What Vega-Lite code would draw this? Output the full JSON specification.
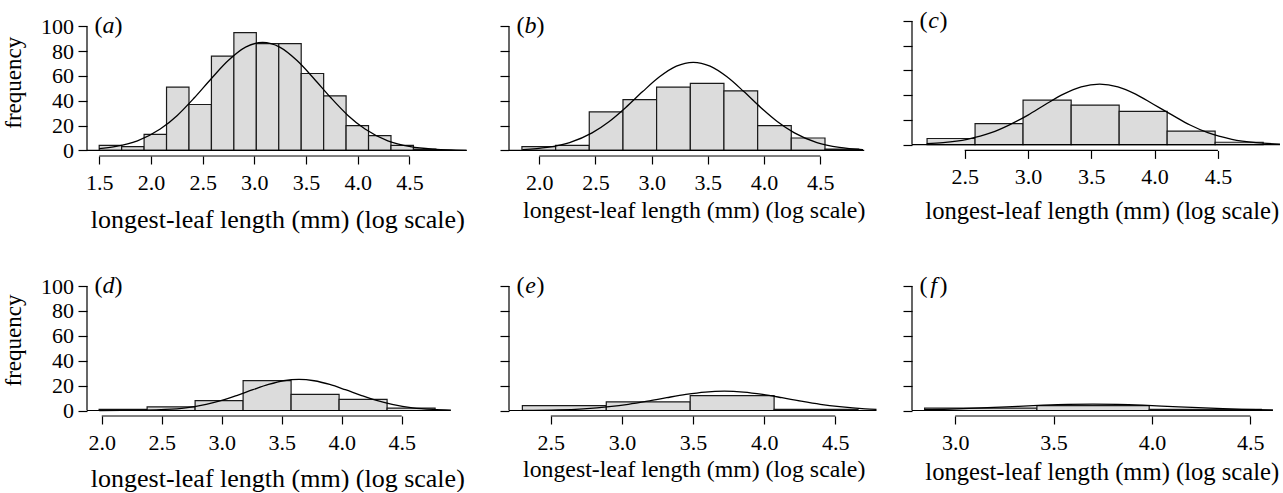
{
  "$schema": "https://vega.github.io/schema/vega-lite/v6.json",
  "padding": {"left": 2, "top": 9, "right": 0, "bottom": 0},
  "config": {
    "view": {"stroke": null},
    "font": "Liberation Serif",
    "axis": {"domain": false, "grid": false, "tickColor": "black", "tickWidth": 1.2, "tickCount": 12, "labelFont": "Liberation Serif", "labelFontSize": 22, "labelColor": "black", "titleFont": "Liberation Serif", "titleFontWeight": "normal", "titleColor": "black", "labelFlush": false, "labelOverlap": false},
    "axisX": {"tickSize": 8, "labelBaseline": "alphabetic", "labelPadding": 25, "titleBaseline": "alphabetic", "titleFontSize": 25},
    "axisY": {"tickSize": 9, "labelPadding": 4.5, "titleFontSize": 23, "titleBaseline": "alphabetic", "titleAngle": 270},
    "text": {"font": "Liberation Serif", "fontSize": 24, "color": "black", "baseline": "middle"},
    "rule": {"color": "black", "strokeWidth": 1.2},
    "line": {"color": "black", "strokeWidth": 1.3, "interpolate": "monotone"},
    "rect": {"fill": "#dcdcdc", "stroke": "#1a1a1a", "strokeWidth": 1.2}
  },
  "datasets": {
    "bars": [
      {"p": "a", "x0": 1.5, "x1": 1.717, "n": 4}, {"p": "a", "x0": 1.717, "x1": 1.934, "n": 3}, {"p": "a", "x0": 1.934, "x1": 2.151, "n": 13}, {"p": "a", "x0": 2.151, "x1": 2.368, "n": 51}, {"p": "a", "x0": 2.368, "x1": 2.585, "n": 37}, {"p": "a", "x0": 2.585, "x1": 2.802, "n": 76}, {"p": "a", "x0": 2.802, "x1": 3.019, "n": 95}, {"p": "a", "x0": 3.019, "x1": 3.236, "n": 86}, {"p": "a", "x0": 3.236, "x1": 3.453, "n": 86}, {"p": "a", "x0": 3.453, "x1": 3.67, "n": 62}, {"p": "a", "x0": 3.67, "x1": 3.887, "n": 44}, {"p": "a", "x0": 3.887, "x1": 4.104, "n": 20}, {"p": "a", "x0": 4.104, "x1": 4.321, "n": 12}, {"p": "a", "x0": 4.321, "x1": 4.538, "n": 4}, {"p": "a", "x0": 4.538, "x1": 4.755, "n": 1},
      {"p": "b", "x0": 1.846, "x1": 2.146, "n": 3}, {"p": "b", "x0": 2.146, "x1": 2.445, "n": 4}, {"p": "b", "x0": 2.445, "x1": 2.745, "n": 31}, {"p": "b", "x0": 2.745, "x1": 3.044, "n": 41}, {"p": "b", "x0": 3.044, "x1": 3.344, "n": 51}, {"p": "b", "x0": 3.344, "x1": 3.643, "n": 54}, {"p": "b", "x0": 3.643, "x1": 3.943, "n": 48}, {"p": "b", "x0": 3.943, "x1": 4.242, "n": 20}, {"p": "b", "x0": 4.242, "x1": 4.542, "n": 10}, {"p": "b", "x0": 4.542, "x1": 4.841, "n": 1},
      {"p": "c", "x0": 2.203, "x1": 2.582, "n": 5}, {"p": "c", "x0": 2.582, "x1": 2.961, "n": 17}, {"p": "c", "x0": 2.961, "x1": 3.341, "n": 36}, {"p": "c", "x0": 3.341, "x1": 3.72, "n": 32}, {"p": "c", "x0": 3.72, "x1": 4.099, "n": 27}, {"p": "c", "x0": 4.099, "x1": 4.478, "n": 11}, {"p": "c", "x0": 4.478, "x1": 4.857, "n": 2},
      {"p": "d", "x0": 1.978, "x1": 2.378, "n": 1}, {"p": "d", "x0": 2.378, "x1": 2.778, "n": 3}, {"p": "d", "x0": 2.778, "x1": 3.178, "n": 8}, {"p": "d", "x0": 3.178, "x1": 3.578, "n": 24}, {"p": "d", "x0": 3.578, "x1": 3.978, "n": 13}, {"p": "d", "x0": 3.978, "x1": 4.378, "n": 9}, {"p": "d", "x0": 4.378, "x1": 4.778, "n": 2},
      {"p": "e", "x0": 2.3, "x1": 2.89, "n": 4}, {"p": "e", "x0": 2.89, "x1": 3.48, "n": 7}, {"p": "e", "x0": 3.48, "x1": 4.07, "n": 12}, {"p": "e", "x0": 4.07, "x1": 4.66, "n": 1},
      {"p": "f", "x0": 2.844, "x1": 3.415, "n": 2}, {"p": "f", "x0": 3.415, "x1": 3.986, "n": 4}, {"p": "f", "x0": 3.986, "x1": 4.556, "n": 1}
    ],
    "curve": [
      {"p": "a", "x": 1.5, "y": 1.4}, {"p": "a", "x": 1.65, "y": 3.0}, {"p": "a", "x": 1.87, "y": 7.7}, {"p": "a", "x": 2.09, "y": 17.2}, {"p": "a", "x": 2.255, "y": 28.2}, {"p": "a", "x": 2.42, "y": 42.4}, {"p": "a", "x": 2.585, "y": 58.0}, {"p": "a", "x": 2.75, "y": 72.6}, {"p": "a", "x": 2.915, "y": 83.2}, {"p": "a", "x": 3.08, "y": 87}, {"p": "a", "x": 3.245, "y": 83.2}, {"p": "a", "x": 3.41, "y": 72.6}, {"p": "a", "x": 3.575, "y": 58.0}, {"p": "a", "x": 3.74, "y": 42.4}, {"p": "a", "x": 3.905, "y": 28.2}, {"p": "a", "x": 4.07, "y": 17.2}, {"p": "a", "x": 4.29, "y": 7.7}, {"p": "a", "x": 4.51, "y": 3.0}, {"p": "a", "x": 4.73, "y": 1.0}, {"p": "a", "x": 4.95, "y": 0.3}, {"p": "a", "x": 5.05, "y": 0.1},
      {"p": "b", "x": 1.85, "y": 0.7}, {"p": "b", "x": 2.07, "y": 2.4}, {"p": "b", "x": 2.27, "y": 6.3}, {"p": "b", "x": 2.47, "y": 14.1}, {"p": "b", "x": 2.62, "y": 23.1}, {"p": "b", "x": 2.77, "y": 34.6}, {"p": "b", "x": 2.92, "y": 47.4}, {"p": "b", "x": 3.07, "y": 59.3}, {"p": "b", "x": 3.22, "y": 67.9}, {"p": "b", "x": 3.37, "y": 71}, {"p": "b", "x": 3.52, "y": 67.9}, {"p": "b", "x": 3.67, "y": 59.3}, {"p": "b", "x": 3.82, "y": 47.4}, {"p": "b", "x": 3.97, "y": 34.6}, {"p": "b", "x": 4.12, "y": 23.1}, {"p": "b", "x": 4.27, "y": 14.1}, {"p": "b", "x": 4.47, "y": 6.3}, {"p": "b", "x": 4.67, "y": 2.4}, {"p": "b", "x": 4.88, "y": 0.7},
      {"p": "c", "x": 2.2, "y": 0.8}, {"p": "c", "x": 2.33, "y": 1.7}, {"p": "c", "x": 2.52, "y": 4.4}, {"p": "c", "x": 2.71, "y": 9.7}, {"p": "c", "x": 2.85, "y": 15.9}, {"p": "c", "x": 3.0, "y": 23.9}, {"p": "c", "x": 3.14, "y": 32.7}, {"p": "c", "x": 3.28, "y": 40.9}, {"p": "c", "x": 3.42, "y": 46.8}, {"p": "c", "x": 3.566, "y": 49}, {"p": "c", "x": 3.71, "y": 46.8}, {"p": "c", "x": 3.85, "y": 40.9}, {"p": "c", "x": 3.99, "y": 32.7}, {"p": "c", "x": 4.14, "y": 23.9}, {"p": "c", "x": 4.28, "y": 15.9}, {"p": "c", "x": 4.42, "y": 9.7}, {"p": "c", "x": 4.61, "y": 4.4}, {"p": "c", "x": 4.8, "y": 1.7}, {"p": "c", "x": 4.99, "y": 0.5},
      {"p": "d", "x": 1.98, "y": 0.0}, {"p": "d", "x": 2.35, "y": 0.3}, {"p": "d", "x": 2.53, "y": 0.85}, {"p": "d", "x": 2.7, "y": 2.2}, {"p": "d", "x": 2.87, "y": 5.0}, {"p": "d", "x": 3.0, "y": 8.1}, {"p": "d", "x": 3.13, "y": 12.2}, {"p": "d", "x": 3.26, "y": 16.7}, {"p": "d", "x": 3.39, "y": 20.9}, {"p": "d", "x": 3.515, "y": 23.9}, {"p": "d", "x": 3.644, "y": 25}, {"p": "d", "x": 3.77, "y": 23.9}, {"p": "d", "x": 3.9, "y": 20.9}, {"p": "d", "x": 4.03, "y": 16.7}, {"p": "d", "x": 4.16, "y": 12.2}, {"p": "d", "x": 4.29, "y": 8.1}, {"p": "d", "x": 4.42, "y": 5.0}, {"p": "d", "x": 4.59, "y": 2.2}, {"p": "d", "x": 4.76, "y": 0.85}, {"p": "d", "x": 4.91, "y": 0.3},
      {"p": "e", "x": 2.3, "y": 0.1}, {"p": "e", "x": 2.55, "y": 0.5}, {"p": "e", "x": 2.73, "y": 1.4}, {"p": "e", "x": 2.91, "y": 3.1}, {"p": "e", "x": 3.045, "y": 5.0}, {"p": "e", "x": 3.18, "y": 7.5}, {"p": "e", "x": 3.315, "y": 10.3}, {"p": "e", "x": 3.45, "y": 12.9}, {"p": "e", "x": 3.585, "y": 14.8}, {"p": "e", "x": 3.72, "y": 15.5}, {"p": "e", "x": 3.855, "y": 14.8}, {"p": "e", "x": 3.99, "y": 12.9}, {"p": "e", "x": 4.125, "y": 10.3}, {"p": "e", "x": 4.26, "y": 7.5}, {"p": "e", "x": 4.395, "y": 5.0}, {"p": "e", "x": 4.53, "y": 3.1}, {"p": "e", "x": 4.71, "y": 1.4}, {"p": "e", "x": 4.79, "y": 1.0},
      {"p": "f", "x": 2.844, "y": 0.64}, {"p": "f", "x": 2.944, "y": 1.0}, {"p": "f", "x": 3.07, "y": 1.66}, {"p": "f", "x": 3.196, "y": 2.48}, {"p": "f", "x": 3.32, "y": 3.4}, {"p": "f", "x": 3.448, "y": 4.26}, {"p": "f", "x": 3.574, "y": 4.88}, {"p": "f", "x": 3.7, "y": 5.1}, {"p": "f", "x": 3.826, "y": 4.88}, {"p": "f", "x": 3.952, "y": 4.26}, {"p": "f", "x": 4.078, "y": 3.4}, {"p": "f", "x": 4.204, "y": 2.48}, {"p": "f", "x": 4.33, "y": 1.66}, {"p": "f", "x": 4.456, "y": 1.0}, {"p": "f", "x": 4.615, "y": 0.5}
    ]
  },
  "columns": 3,
  "spacing": {"row": 130, "column": 0},
  "bounds": "flush",
  "align": "each",
  "concat": [
    {
      "width": 422, "height": 135,
      "data": {"values": [{}]},
      "layer": [
        {"data": {"name": "bars"}, "transform": [{"filter": "datum.p === 'a'"}], "mark": "rect",
         "encoding": {
           "x": {"field": "x0", "type": "quantitative", "scale": {"domain": [1.382, 5.462], "nice": false, "zero": false},
                 "axis": {"values": [1.5, 2, 2.5, 3, 3.5, 4, 4.5], "format": ".1f", "title": "longest-leaf length (mm) (log scale)", "titleX": 190.3, "titleY": 71, "titleFontSize": 26}},
           "x2": {"field": "x1"},
           "y": {"field": "n", "type": "quantitative", "scale": {"domain": [-4.5, 104.3], "nice": false, "zero": false},
                 "axis": {"values": [0, 20, 40, 60, 80, 100], "tickCount": 12, "title": "frequency", "titleX": -66.2, "titleY": 61.3}},
           "y2": {"datum": 0}}},
        {"data": {"name": "curve"}, "transform": [{"filter": "datum.p === 'a'"}], "mark": "line",
         "encoding": {"x": {"field": "x", "type": "quantitative"}, "y": {"field": "y", "type": "quantitative"}}},
        {"mark": "rule", "encoding": {"x": {"datum": 1.382}, "x2": {"datum": 5.054}, "y": {"datum": 0}}},
        {"mark": "rule", "encoding": {"x": {"datum": 1.382}, "y": {"datum": 0}, "y2": {"datum": 100}}},
        {"mark": "rule", "encoding": {"x": {"datum": 1.5}, "x2": {"datum": 4.5}, "y": {"datum": -4.5}}},
        {"mark": {"type": "text", "align": "right", "dx": 15.5, "text": "("}, "encoding": {"x": {"datum": 1.382}, "y": {"datum": 100}}},
        {"mark": {"type": "text", "align": "center", "dx": 21.5, "fontStyle": "italic", "text": "a"}, "encoding": {"x": {"datum": 1.382}, "y": {"datum": 100}}},
        {"mark": {"type": "text", "align": "left", "dx": 27.5, "text": ")"}, "encoding": {"x": {"datum": 1.382}, "y": {"datum": 100}}}
      ]
    },
    {
      "width": 402.5, "height": 135,
      "data": {"values": [{}]},
      "layer": [
        {"data": {"name": "bars"}, "transform": [{"filter": "datum.p === 'b'"}], "mark": "rect",
         "encoding": {
           "x": {"field": "x0", "type": "quantitative", "scale": {"domain": [1.731, 5.3115], "nice": false, "zero": false},
                 "axis": {"values": [2, 2.5, 3, 3.5, 4, 4.5], "format": ".1f", "title": "longest-leaf length (mm) (log scale)", "titleX": 184.7, "titleY": 61.5, "titleFontSize": 23.8}},
           "x2": {"field": "x1"},
           "y": {"field": "n", "type": "quantitative", "scale": {"domain": [-4.5, 104.3], "nice": false, "zero": false},
                 "axis": {"values": [0, 20, 40, 60, 80, 100], "tickCount": 12, "labels": false, "title": ""}},
           "y2": {"datum": 0}}},
        {"data": {"name": "curve"}, "transform": [{"filter": "datum.p === 'b'"}], "mark": "line",
         "encoding": {"x": {"field": "x", "type": "quantitative"}, "y": {"field": "y", "type": "quantitative"}}},
        {"mark": "rule", "encoding": {"x": {"datum": 1.731}, "x2": {"datum": 4.891}, "y": {"datum": 0}}},
        {"mark": "rule", "encoding": {"x": {"datum": 1.731}, "y": {"datum": 0}, "y2": {"datum": 100}}},
        {"mark": "rule", "encoding": {"x": {"datum": 2.0}, "x2": {"datum": 4.5}, "y": {"datum": -4.5}}},
        {"mark": {"type": "text", "align": "right", "dx": 15.5, "text": "("}, "encoding": {"x": {"datum": 1.731}, "y": {"datum": 100}}},
        {"mark": {"type": "text", "align": "center", "dx": 21.5, "fontStyle": "italic", "text": "b"}, "encoding": {"x": {"datum": 1.731}, "y": {"datum": 100}}},
        {"mark": {"type": "text", "align": "left", "dx": 27.5, "text": ")"}, "encoding": {"x": {"datum": 1.731}, "y": {"datum": 100}}}
      ]
    },
    {
      "width": 369, "height": 129.4,
      "data": {"values": [{}]},
      "layer": [
        {"data": {"name": "bars"}, "transform": [{"filter": "datum.p === 'c'"}], "mark": "rect",
         "encoding": {
           "x": {"field": "x0", "type": "quantitative", "scale": {"domain": [2.084, 4.998], "nice": false, "zero": false},
                 "axis": {"values": [2.5, 3, 3.5, 4, 4.5], "format": ".1f", "title": "longest-leaf length (mm) (log scale)", "titleX": 189.7, "titleY": 68, "titleFontSize": 24.6}},
           "x2": {"field": "x1"},
           "y": {"field": "n", "type": "quantitative", "scale": {"domain": [-4.6, 100], "nice": false, "zero": false},
                 "axis": {"values": [0, 20, 40, 60, 80, 100], "tickCount": 12, "labels": false, "title": ""}},
           "y2": {"datum": 0}}},
        {"data": {"name": "curve"}, "transform": [{"filter": "datum.p === 'c'"}], "mark": "line",
         "encoding": {"x": {"field": "x", "type": "quantitative"}, "y": {"field": "y", "type": "quantitative"}}},
        {"mark": "rule", "encoding": {"x": {"datum": 2.084}, "x2": {"datum": 4.99}, "y": {"datum": 0}}},
        {"mark": "rule", "encoding": {"x": {"datum": 2.084}, "y": {"datum": 0}, "y2": {"datum": 100}}},
        {"mark": "rule", "encoding": {"x": {"datum": 2.5}, "x2": {"datum": 4.5}, "y": {"datum": -4.6}}},
        {"mark": {"type": "text", "align": "right", "dx": 15.5, "text": "("}, "encoding": {"x": {"datum": 2.084}, "y": {"datum": 100}}},
        {"mark": {"type": "text", "align": "center", "dx": 21.5, "fontStyle": "italic", "text": "c"}, "encoding": {"x": {"datum": 2.084}, "y": {"datum": 100}}},
        {"mark": {"type": "text", "align": "left", "dx": 27.5, "text": ")"}, "encoding": {"x": {"datum": 2.084}, "y": {"datum": 100}}}
      ]
    },
    {
      "width": 422, "height": 130,
      "data": {"values": [{}]},
      "layer": [
        {"data": {"name": "bars"}, "transform": [{"filter": "datum.p === 'd'"}], "mark": "rect",
         "encoding": {
           "x": {"field": "x0", "type": "quantitative", "scale": {"domain": [1.877, 5.394], "nice": false, "zero": false},
                 "axis": {"values": [2, 2.5, 3, 3.5, 4, 4.5], "format": ".1f", "title": "longest-leaf length (mm) (log scale)", "titleX": 190.3, "titleY": 70.5, "titleFontSize": 26}},
           "x2": {"field": "x1"},
           "y": {"field": "n", "type": "quantitative", "scale": {"domain": [-4.4, 100], "nice": false, "zero": false},
                 "axis": {"values": [0, 20, 40, 60, 80, 100], "tickCount": 12, "title": "frequency", "titleX": -66.2, "titleY": 54}},
           "y2": {"datum": 0}}},
        {"data": {"name": "curve"}, "transform": [{"filter": "datum.p === 'd'"}], "mark": "line",
         "encoding": {"x": {"field": "x", "type": "quantitative"}, "y": {"field": "y", "type": "quantitative"}}},
        {"mark": "rule", "encoding": {"x": {"datum": 1.877}, "x2": {"datum": 4.908}, "y": {"datum": 0}}},
        {"mark": "rule", "encoding": {"x": {"datum": 1.877}, "y": {"datum": 0}, "y2": {"datum": 100}}},
        {"mark": "rule", "encoding": {"x": {"datum": 2.0}, "x2": {"datum": 4.5}, "y": {"datum": -4.4}}},
        {"mark": {"type": "text", "align": "right", "dx": 15.5, "text": "("}, "encoding": {"x": {"datum": 1.877}, "y": {"datum": 100}}},
        {"mark": {"type": "text", "align": "center", "dx": 21.5, "fontStyle": "italic", "text": "d"}, "encoding": {"x": {"datum": 1.877}, "y": {"datum": 100}}},
        {"mark": {"type": "text", "align": "left", "dx": 27.5, "text": ")"}, "encoding": {"x": {"datum": 1.877}, "y": {"datum": 100}}}
      ]
    },
    {
      "width": 402.5, "height": 130,
      "data": {"values": [{}]},
      "layer": [
        {"data": {"name": "bars"}, "transform": [{"filter": "datum.p === 'e'"}], "mark": "rect",
         "encoding": {
           "x": {"field": "x0", "type": "quantitative", "scale": {"domain": [2.206, 5.036], "nice": false, "zero": false},
                 "axis": {"values": [2.5, 3, 3.5, 4, 4.5], "format": ".1f", "title": "longest-leaf length (mm) (log scale)", "titleX": 184.7, "titleY": 60.7, "titleFontSize": 23.8}},
           "x2": {"field": "x1"},
           "y": {"field": "n", "type": "quantitative", "scale": {"domain": [-4.4, 100], "nice": false, "zero": false},
                 "axis": {"values": [0, 20, 40, 60, 80, 100], "tickCount": 12, "labels": false, "title": ""}},
           "y2": {"datum": 0}}},
        {"data": {"name": "curve"}, "transform": [{"filter": "datum.p === 'e'"}], "mark": "line",
         "encoding": {"x": {"field": "x", "type": "quantitative"}, "y": {"field": "y", "type": "quantitative"}}},
        {"mark": "rule", "encoding": {"x": {"datum": 2.206}, "x2": {"datum": 4.79}, "y": {"datum": 0}}},
        {"mark": "rule", "encoding": {"x": {"datum": 2.206}, "y": {"datum": 0}, "y2": {"datum": 100}}},
        {"mark": "rule", "encoding": {"x": {"datum": 2.5}, "x2": {"datum": 4.5}, "y": {"datum": -4.4}}},
        {"mark": {"type": "text", "align": "right", "dx": 15.5, "text": "("}, "encoding": {"x": {"datum": 2.206}, "y": {"datum": 100}}},
        {"mark": {"type": "text", "align": "center", "dx": 21.5, "fontStyle": "italic", "text": "e"}, "encoding": {"x": {"datum": 2.206}, "y": {"datum": 100}}},
        {"mark": {"type": "text", "align": "left", "dx": 27.5, "text": ")"}, "encoding": {"x": {"datum": 2.206}, "y": {"datum": 100}}}
      ]
    },
    {
      "width": 369, "height": 130,
      "data": {"values": [{}]},
      "layer": [
        {"data": {"name": "bars"}, "transform": [{"filter": "datum.p === 'f'"}], "mark": "rect",
         "encoding": {
           "x": {"field": "x0", "type": "quantitative", "scale": {"domain": [2.78, 4.656], "nice": false, "zero": false},
                 "axis": {"values": [3, 3.5, 4, 4.5], "format": ".1f", "title": "longest-leaf length (mm) (log scale)", "titleX": 189.7, "titleY": 63, "titleFontSize": 24.6}},
           "x2": {"field": "x1"},
           "y": {"field": "n", "type": "quantitative", "scale": {"domain": [-4.4, 100], "nice": false, "zero": false},
                 "axis": {"values": [0, 20, 40, 60, 80, 100], "tickCount": 12, "labels": false, "title": ""}},
           "y2": {"datum": 0}}},
        {"data": {"name": "curve"}, "transform": [{"filter": "datum.p === 'f'"}], "mark": "line",
         "encoding": {"x": {"field": "x", "type": "quantitative"}, "y": {"field": "y", "type": "quantitative"}}},
        {"mark": "rule", "encoding": {"x": {"datum": 2.78}, "x2": {"datum": 4.615}, "y": {"datum": 0}}},
        {"mark": "rule", "encoding": {"x": {"datum": 2.78}, "y": {"datum": 0}, "y2": {"datum": 100}}},
        {"mark": "rule", "encoding": {"x": {"datum": 3.0}, "x2": {"datum": 4.5}, "y": {"datum": -4.4}}},
        {"mark": {"type": "text", "align": "right", "dx": 15.5, "text": "("}, "encoding": {"x": {"datum": 2.78}, "y": {"datum": 100}}},
        {"mark": {"type": "text", "align": "center", "dx": 21.5, "fontStyle": "italic", "text": "f"}, "encoding": {"x": {"datum": 2.78}, "y": {"datum": 100}}},
        {"mark": {"type": "text", "align": "left", "dx": 27.5, "text": ")"}, "encoding": {"x": {"datum": 2.78}, "y": {"datum": 100}}}
      ]
    }
  ]
}
